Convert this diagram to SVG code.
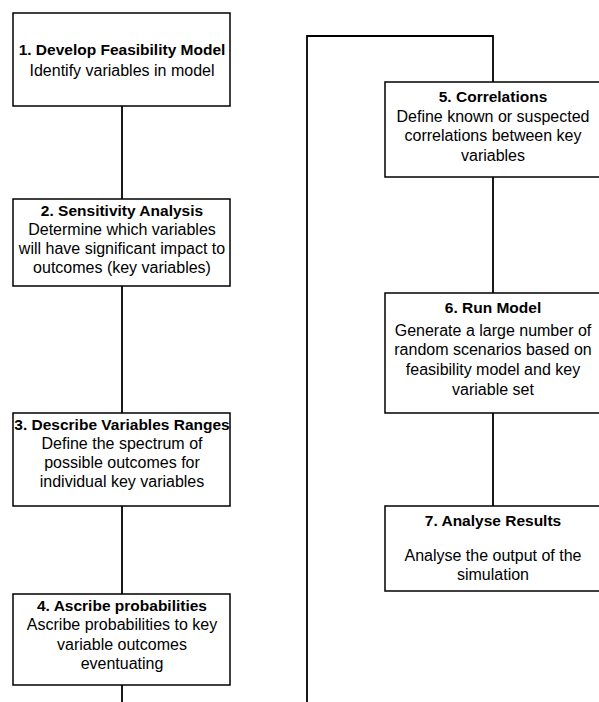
<svg xmlns="http://www.w3.org/2000/svg" width="599" height="702" viewBox="0 0 599 702">
<style>
  .box { fill: #fff; stroke: #000; stroke-width: 1.5; }
  .conn { fill: none; stroke: #000; stroke-width: 1.8; }
  text { font-family: "Liberation Sans", Arial, sans-serif; fill: #000; text-anchor: middle; }
  .t { font-size: 15.5px; font-weight: bold; }
  .b { font-size: 16px; }
</style>
<rect width="599" height="702" fill="#fff"/>
<g id="connectors">
  <line class="conn" x1="122" y1="106" x2="122" y2="199"/>
  <line class="conn" x1="122" y1="286" x2="122" y2="413"/>
  <line class="conn" x1="122" y1="506" x2="122" y2="594"/>
  <line class="conn" x1="122" y1="685" x2="122" y2="702"/>
  <polyline class="conn" points="307,702 307,36 493,36 493,82"/>
  <line class="conn" x1="493" y1="177" x2="493" y2="293"/>
  <line class="conn" x1="493" y1="413" x2="493" y2="506"/>
</g>
<g id="node1">
  <rect class="box" x="13" y="13" width="217" height="93"/>
  <text class="t" x="122" y="55">1. Develop Feasibility Model</text>
  <text class="b" x="122" y="76">Identify variables in model</text>
</g>
<g id="node2">
  <rect class="box" x="13" y="199" width="217" height="87"/>
  <text class="t" x="122" y="216">2. Sensitivity Analysis</text>
  <text class="b" x="122" y="235">Determine which variables</text>
  <text class="b" x="122" y="254">will have significant impact to</text>
  <text class="b" x="122" y="273">outcomes (key variables)</text>
</g>
<g id="node3">
  <rect class="box" x="13" y="413" width="217" height="93"/>
  <text class="t" x="122" y="430">3. Describe Variables Ranges</text>
  <text class="b" x="122" y="449">Define the spectrum of</text>
  <text class="b" x="122" y="468">possible outcomes for</text>
  <text class="b" x="122" y="487">individual key variables</text>
</g>
<g id="node4">
  <rect class="box" x="13" y="594" width="217" height="91"/>
  <text class="t" x="122" y="611">4. Ascribe probabilities</text>
  <text class="b" x="122" y="630">Ascribe probabilities to key</text>
  <text class="b" x="122" y="650">variable outcomes</text>
  <text class="b" x="122" y="669">eventuating</text>
</g>
<g id="node5">
  <rect class="box" x="385" y="82" width="216" height="95"/>
  <text class="t" x="493" y="102">5. Correlations</text>
  <text class="b" x="493" y="122">Define known or suspected</text>
  <text class="b" x="493" y="141">correlations between key</text>
  <text class="b" x="493" y="161">variables</text>
</g>
<g id="node6">
  <rect class="box" x="385" y="293" width="216" height="120"/>
  <text class="t" x="493" y="313">6. Run Model</text>
  <text class="b" x="493" y="336">Generate a large number of</text>
  <text class="b" x="493" y="355">random scenarios based on</text>
  <text class="b" x="493" y="375">feasibility model and key</text>
  <text class="b" x="493" y="395">variable set</text>
</g>
<g id="node7">
  <rect class="box" x="385" y="506" width="216" height="85"/>
  <text class="t" x="493" y="526">7. Analyse Results</text>
  <text class="b" x="493" y="561">Analyse the output of the</text>
  <text class="b" x="493" y="580">simulation</text>
</g>
</svg>
